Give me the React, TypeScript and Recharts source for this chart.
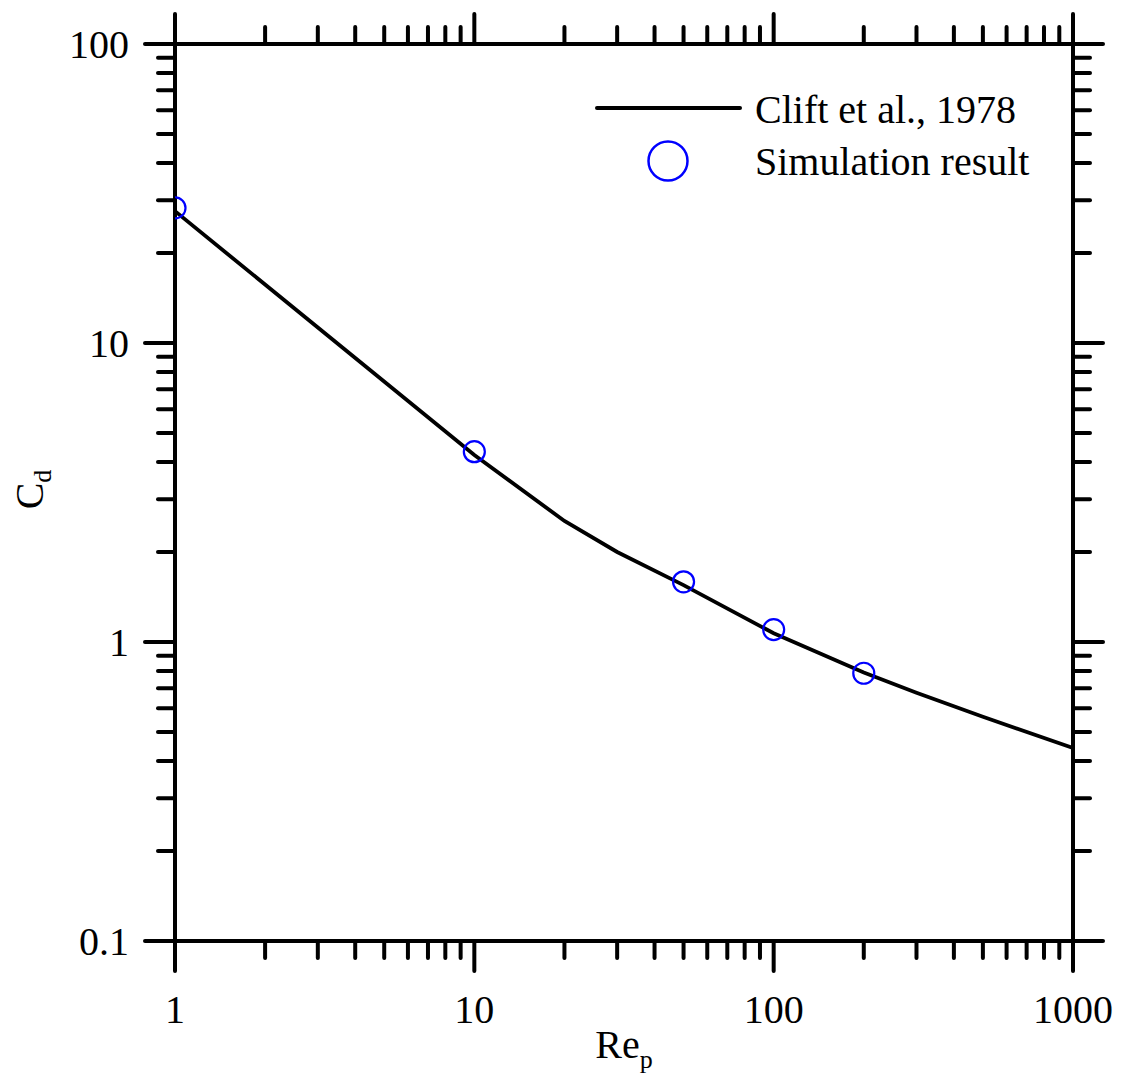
import {
  ComposedChart,
  Label,
  Legend,
  Line,
  Scatter,
  XAxis,
  YAxis,
} from "recharts";

// Re_p values and Cd
const cliftRe = [1, 10, 20, 30, 50, 100, 200, 300, 500, 1000];
const cliftCd = [27.6, 4.22, 2.54, 2.0, 1.55, 1.07, 0.79, 0.676, 0.562, 0.442];

const simRe = [1, 10, 50, 100, 200];
const simCd = [28.3, 4.33, 1.59, 1.1, 0.786];

const xTicks = [
  1, 2, 3, 4, 5, 6, 7, 8, 9, 10, 20, 30, 40, 50, 60, 70, 80, 90, 100, 200, 300, 400,
  500, 600, 700, 800, 900, 1000,
];
const yTicks = [
  0.1, 0.2, 0.3, 0.4, 0.5, 0.6, 0.7, 0.8, 0.9, 1, 2, 3, 4, 5, 6, 7, 8, 9, 10, 20, 30,
  40, 50, 60, 70, 80, 90, 100,
];

const cliftData = cliftRe.map((re, i) => ({ re, cd: cliftCd[i] }));
const simData = simRe.map((re, i) => ({ re, cd: simCd[i] }));

const FONT = '"Liberation Serif", "Times New Roman", serif';
const MAJOR = 30;
const MINOR = 17;
const STROKE = 4;

const isMajor = (v: number) => {
  const l = Math.log10(v);
  return Math.abs(l - Math.round(l)) < 1e-6;
};

function BottomTick({ x, y, payload }: any) {
  const major = isMajor(payload.value);
  return (
    <g>
      <line x1={x} y1={y} x2={x} y2={y + (major ? MAJOR : MINOR)} stroke="#000" strokeWidth={STROKE} strokeLinecap="round" />
      {major ? (
        <text x={x} y={y + 82} textAnchor="middle" fontFamily={FONT} fontSize={40} fill="#000">
          {String(payload.value)}
        </text>
      ) : null}
    </g>
  );
}

function TopTick({ x, y, payload }: any) {
  const major = isMajor(payload.value);
  return (
    <line x1={x} y1={y} x2={x} y2={y - (major ? MAJOR : MINOR)} stroke="#000" strokeWidth={STROKE} strokeLinecap="round" />
  );
}

function LeftTick({ x, y, payload }: any) {
  const major = isMajor(payload.value);
  return (
    <g>
      <line x1={x} y1={y} x2={x - (major ? MAJOR : MINOR)} y2={y} stroke="#000" strokeWidth={STROKE} strokeLinecap="round" />
      {major ? (
        <text x={x - 46} y={y + 14} textAnchor="end" fontFamily={FONT} fontSize={40} fill="#000">
          {String(payload.value)}
        </text>
      ) : null}
    </g>
  );
}

function RightTick({ x, y, payload }: any) {
  const major = isMajor(payload.value);
  return (
    <line x1={x} y1={y} x2={x + (major ? MAJOR : MINOR)} y2={y} stroke="#000" strokeWidth={STROKE} strokeLinecap="round" />
  );
}

function OpenCircle({ cx, cy }: any) {
  return <circle cx={cx} cy={cy} r={10.5} fill="none" stroke="#0000ff" strokeWidth={2.2} />;
}

function XTitle({ viewBox }: any) {
  const cx = viewBox.x + viewBox.width / 2;
  return (
    <text x={cx} y={viewBox.y + 117} textAnchor="middle" fontFamily={FONT} fontSize={40} fill="#000">
      Re
      <tspan fontSize={26} dy={10}>p</tspan>
    </text>
  );
}

function YTitle({ viewBox }: any) {
  const cy = viewBox.y + viewBox.height / 2;
  return (
    <text
      x={0}
      y={0}
      transform={`translate(43, ${cy - 3}) rotate(-90)`}
      textAnchor="middle"
      fontFamily={FONT}
      fontSize={40}
      fill="#000"
    >
      C
      <tspan fontSize={26} dy={8}>d</tspan>
    </text>
  );
}

function LegendBox({ payload }: any) {
  const items = payload ?? [];
  const lineItem = items.find((p: any) => p.type === "line") ?? items[0];
  const dotItem = items.find((p: any) => p.type !== "line") ?? items[1];
  return (
    <svg width={460} height={110} style={{ display: "block" }}>
      <line x1={7} y1={28} x2={150} y2={28} stroke="#000" strokeWidth={4} strokeLinecap="round" />
      <text x={165} y={43} fontFamily={FONT} fontSize={40} fill="#000">
        {lineItem?.value ?? "Clift et al., 1978"}
      </text>
      <circle cx={78} cy={81} r={19.5} fill="none" stroke="#0000ff" strokeWidth={2.5} />
      <text x={165} y={95} fontFamily={FONT} fontSize={40} fill="#000">
        {dotItem?.value ?? "Simulation result"}
      </text>
    </svg>
  );
}

export default function App() {
  return (
    <div style={{ position: "absolute", left: 0, top: 0, background: "#fff" }}>
      <ComposedChart width={1122} height={1088} margin={{ top: 14, right: 19, bottom: 87, left: 75 }}>
        <XAxis
          xAxisId="b"
          dataKey="re"
          type="number"
          scale="log"
          domain={[1, 1000]}
          allowDataOverflow
          ticks={xTicks}
          interval={0}
          height={60}
          tickSize={0}
          tickMargin={0}
          tick={<BottomTick />}
          axisLine={{ stroke: "#000", strokeWidth: STROKE }}
        >
          <Label content={XTitle} />
        </XAxis>
        <XAxis
          xAxisId="t"
          orientation="top"
          dataKey="re"
          type="number"
          scale="log"
          domain={[1, 1000]}
          allowDataOverflow
          ticks={xTicks}
          interval={0}
          height={30}
          tickSize={0}
          tickMargin={0}
          tick={<TopTick />}
          axisLine={{ stroke: "#000", strokeWidth: STROKE }}
        />
        <YAxis
          yAxisId="l"
          type="number"
          scale="log"
          domain={[0.1, 100]}
          allowDataOverflow
          ticks={yTicks}
          interval={0}
          width={100}
          tickSize={0}
          tickMargin={0}
          tick={<LeftTick />}
          axisLine={{ stroke: "#000", strokeWidth: STROKE }}
        >
          <Label content={YTitle} />
        </YAxis>
        <YAxis
          yAxisId="r"
          orientation="right"
          type="number"
          scale="log"
          domain={[0.1, 100]}
          allowDataOverflow
          ticks={yTicks}
          interval={0}
          width={30}
          tickSize={0}
          tickMargin={0}
          tick={<RightTick />}
          axisLine={{ stroke: "#000", strokeWidth: STROKE }}
        />
        <Legend
          layout="horizontal"
          align="center"
          verticalAlign="middle"
          content={<LegendBox />}
          wrapperStyle={{ left: 590, top: 80, width: 460, height: 110 }}
        />
        <Line
          xAxisId="b"
          yAxisId="l"
          data={cliftData}
          dataKey="cd"
          name="Clift et al., 1978"
          type="linear"
          stroke="#000"
          strokeWidth={3.8}
          dot={false}
          activeDot={false}
          isAnimationActive={false}
        />
        <Scatter
          xAxisId="b"
          yAxisId="l"
          data={simData}
          dataKey="cd"
          name="Simulation result"
          shape={<OpenCircle />}
          isAnimationActive={false}
        />
      </ComposedChart>
    </div>
  );
}
